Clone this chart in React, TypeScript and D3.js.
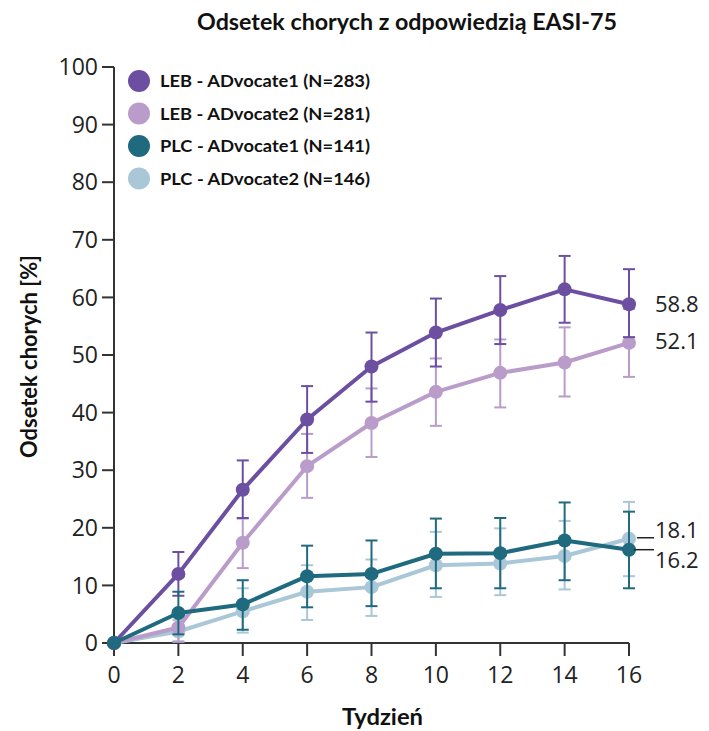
import React from "react";
import * as d3 from "d3";

const weeks = [0, 2, 4, 6, 8, 10, 12, 14, 16];
const seriesNames = [
  "PLC - ADvocate2 (N=146)",
  "LEB - ADvocate2 (N=281)",
  "LEB - ADvocate1 (N=283)",
  "PLC - ADvocate1 (N=141)",
];
const legendOrder = [
  "LEB - ADvocate1 (N=283)",
  "LEB - ADvocate2 (N=281)",
  "PLC - ADvocate1 (N=141)",
  "PLC - ADvocate2 (N=146)",
];
const colors: Record<string, string> = {
  "LEB - ADvocate1 (N=283)": "#6c4fa1",
  "LEB - ADvocate2 (N=281)": "#b99cca",
  "PLC - ADvocate1 (N=141)": "#1f6a7e",
  "PLC - ADvocate2 (N=146)": "#a9c7d7",
};
const lebA1 = [0, 12.0, 26.6, 38.8, 48.0, 53.9, 57.8, 61.4, 58.8];
const lebA1Lo = [0, 8.2, 21.7, 33.0, 41.9, 48.0, 51.9, 55.6, 53.1];
const lebA1Hi = [0, 15.8, 31.7, 44.6, 53.9, 59.8, 63.7, 67.2, 64.9];
const lebA2 = [0, 2.7, 17.4, 30.7, 38.2, 43.6, 46.9, 48.7, 52.1];
const lebA2Lo = [0, 0.2, 13.0, 25.2, 32.3, 37.7, 40.9, 42.8, 46.2];
const lebA2Hi = [0, 5.5, 21.6, 36.3, 44.2, 49.4, 52.7, 54.8, 58.0];
const plcA1 = [0, 5.2, 6.7, 11.6, 12.0, 15.5, 15.6, 17.8, 16.2];
const plcA1Lo = [0, 1.5, 2.3, 6.2, 6.4, 9.5, 9.5, 10.9, 9.5];
const plcA1Hi = [0, 8.9, 10.9, 16.9, 17.8, 21.6, 21.7, 24.4, 22.8];
const plcA2 = [0, 2.0, 5.5, 8.9, 9.7, 13.5, 13.8, 15.1, 18.1];
const plcA2Lo = [0, 0.3, 1.8, 4.0, 4.7, 8.0, 8.3, 9.3, 11.6];
const plcA2Hi = [0, 4.0, 9.5, 13.5, 14.5, 19.3, 19.9, 21.2, 24.5];
const yTicks = [0, 10, 20, 30, 40, 50, 60, 70, 80, 90, 100];
const xTicks = [0, 2, 4, 6, 8, 10, 12, 14, 16];
const endLabels = ["58.8", "52.1", "18.1", "16.2"];
const title = "Odsetek chorych z odpowiedzią EASI-75";
const yTitle = "Odsetek chorych [%]";
const xTitle = "Tydzień";

const dataMap: Record<string, number[][]> = {
  "LEB - ADvocate1 (N=283)": [lebA1, lebA1Lo, lebA1Hi],
  "LEB - ADvocate2 (N=281)": [lebA2, lebA2Lo, lebA2Hi],
  "PLC - ADvocate1 (N=141)": [plcA1, plcA1Lo, plcA1Hi],
  "PLC - ADvocate2 (N=146)": [plcA2, plcA2Lo, plcA2Hi],
};

export default function App() {
  const x = d3.scaleLinear().domain([0, 16]).range([114, 629]);
  const y = d3.scaleLinear().domain([0, 100]).range([643, 67]);
  const line = d3
    .line<number>()
    .x((_, i) => x(weeks[i]))
    .y((d) => y(d));
  const font = "'Open Sans', sans-serif";
  const boldFont = "Lato, 'Open Sans', sans-serif";
  const axisColor = "#333";
  return (
    <svg
      width={709}
      height={731}
      style={{ position: "absolute", left: 0, top: 0, background: "#fff" }}
    >
      <rect width={709} height={731} fill="#fff" />
      <text
        x={197}
        y={30}
        fontFamily={boldFont}
        fontWeight={700}
        fontSize={23}
        fill="#111"
        textLength={420}
        lengthAdjust="spacingAndGlyphs"
      >
        {title}
      </text>
      {/* y axis */}
      <line x1={x(0)} x2={x(0)} y1={y(0)} y2={y(100)} stroke={axisColor} strokeWidth={2} />
      {yTicks.map((t) => (
        <g key={"y" + t}>
          <line x1={x(0) - 12} x2={x(0)} y1={y(t)} y2={y(t)} stroke={axisColor} strokeWidth={2} />
          <text
            x={x(0) - 16}
            y={y(t)}
            dy="0.36em"
            textAnchor="end"
            fontFamily={font}
            fontSize={23}
            fill="#222"
          >
            {t}
          </text>
        </g>
      ))}
      {/* x axis */}
      <line x1={x(0)} x2={x(16)} y1={y(0)} y2={y(0)} stroke={axisColor} strokeWidth={2} />
      {xTicks.map((t) => (
        <g key={"x" + t}>
          <line x1={x(t)} x2={x(t)} y1={y(0)} y2={y(0) + 13} stroke={axisColor} strokeWidth={2} />
          <text
            x={x(t)}
            y={y(0) + 32}
            dy="0.36em"
            textAnchor="middle"
            fontFamily={font}
            fontSize={23}
            fill="#222"
          >
            {t}
          </text>
        </g>
      ))}
      <text
        x={342}
        y={725}
        fontFamily={boldFont}
        fontWeight={700}
        fontSize={23}
        fill="#111"
        textLength={81}
        lengthAdjust="spacingAndGlyphs"
      >
        {xTitle}
      </text>
      <text
        transform={`translate(37, 458) rotate(-90)`}
        fontFamily={boldFont}
        fontWeight={700}
        fontSize={23}
        fill="#111"
        textLength={203}
        lengthAdjust="spacingAndGlyphs"
      >
        {yTitle}
      </text>
      {/* series */}
      {seriesNames.map((name) => {
        const [vals, lo, hi] = dataMap[name];
        const c = colors[name];
        return (
          <g key={name}>
            {vals.map((v, i) =>
              i === 0 ? null : (
                <g key={i}>
                  <line x1={x(weeks[i])} x2={x(weeks[i])} y1={y(lo[i])} y2={y(hi[i])} stroke={c} strokeWidth={2} />
                  <line x1={x(weeks[i]) - 6} x2={x(weeks[i]) + 6} y1={y(lo[i])} y2={y(lo[i])} stroke={c} strokeWidth={2} />
                  <line x1={x(weeks[i]) - 6} x2={x(weeks[i]) + 6} y1={y(hi[i])} y2={y(hi[i])} stroke={c} strokeWidth={2} />
                </g>
              )
            )}
            <path d={line(vals) || ""} fill="none" stroke={c} strokeWidth={4} strokeLinejoin="round" />
            {vals.map((v, i) => (
              <circle key={"c" + i} cx={x(weeks[i])} cy={y(v)} r={7} fill={c} />
            ))}
          </g>
        );
      })}
      {/* end labels */}
      <text x={655} y={y(58.8)} dy="0.36em" fontFamily={font} fontSize={22} fill="#222">
        {endLabels[0]}
      </text>
      <text x={655} y={y(52.1) - 2} dy="0.36em" fontFamily={font} fontSize={22} fill="#222">
        {endLabels[1]}
      </text>
      <line x1={637} x2={654} y1={y(18.1) - 1} y2={y(18.1) - 1} stroke="#222" strokeWidth={1.5} />
      <text x={655} y={y(18.1) - 9} dy="0.36em" fontFamily={font} fontSize={22} fill="#222">
        {endLabels[2]}
      </text>
      <line x1={634} x2={654} y1={y(16.2)} y2={y(16.2)} stroke="#222" strokeWidth={1.5} />
      <text x={655} y={y(16.2) + 10} dy="0.36em" fontFamily={font} fontSize={22} fill="#222">
        {endLabels[3]}
      </text>
      {/* legend */}
      {legendOrder.map((name, i) => (
        <g key={"lg" + name}>
          <circle cx={139} cy={81 + i * 32.5} r={11} fill={colors[name]} />
          <text
            x={160}
            y={81 + i * 32.5}
            dy="0.36em"
            fontFamily={boldFont}
            fontWeight={700}
            fontSize={17}
            fill="#111"
            textLength={210}
            lengthAdjust="spacingAndGlyphs"
          >
            {name}
          </text>
        </g>
      ))}
    </svg>
  );
}
